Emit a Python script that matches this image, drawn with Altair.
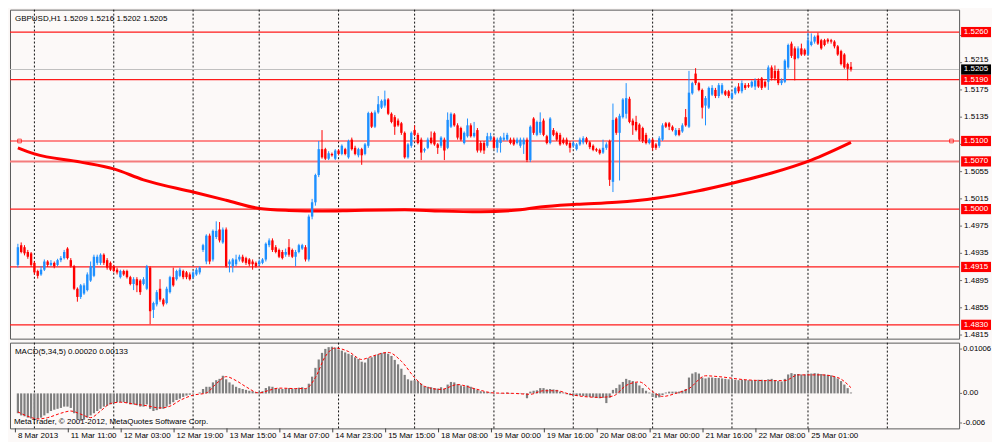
import altair as alt
import pandas as pd

# ---------------- texts ----------------
symbol_header = "GBPUSD,H1  1.5209 1.5216 1.5202 1.5205"
macd_header = "MACD(5,34,5) 0.00020 0.00133"
copyright_text = "MetaTrader, \u00a9 2001-2012, MetaQuotes Software Corp."

# ---------------- hourly candles (bar index 0 = 8 Mar 2013 19:00) ----------------
opens = [
    1.4918, 1.4947, 1.4944, 1.4937, 1.4935, 1.4921, 1.4909, 1.4904, 1.4911, 1.4923,
    1.4918, 1.4921, 1.4918, 1.4925, 1.4928, 1.4942, 1.4925, 1.4916, 1.4883, 1.4871,
    1.4876, 1.4881, 1.4895, 1.4902, 1.4921, 1.4921, 1.4933, 1.4925, 1.4921, 1.4916,
    1.4911, 1.4900, 1.4909, 1.4909, 1.4900, 1.4890, 1.4897, 1.4895, 1.4890, 1.4883,
    1.4914, 1.4852, 1.4860, 1.4883, 1.4867, 1.4862, 1.4878, 1.4900, 1.4897, 1.4902,
    1.4909, 1.4907, 1.4904, 1.4900, 1.4904, 1.4907, 1.4940, 1.4923, 1.4961, 1.4926,
    1.4959, 1.4970, 1.4951, 1.4970, 1.4919, 1.4916, 1.4919, 1.4926, 1.4930, 1.4928,
    1.4926, 1.4923, 1.4921, 1.4919, 1.4921, 1.4926, 1.4947, 1.4954, 1.4944, 1.4940,
    1.4937, 1.4933, 1.4944, 1.4940, 1.4930, 1.4937, 1.4942, 1.4944, 1.4926, 1.4989,
    1.5010, 1.5050, 1.5088, 1.5088, 1.5074, 1.5081, 1.5074, 1.5086, 1.5081, 1.5088,
    1.5076, 1.5102, 1.5090, 1.5079, 1.5088, 1.5081, 1.5093, 1.5141, 1.5121, 1.5142,
    1.5149, 1.5152, 1.5161, 1.5140, 1.5135, 1.5130, 1.5126, 1.5112, 1.5076, 1.5093,
    1.5116, 1.5109, 1.5102, 1.5086, 1.5090, 1.5105, 1.5112, 1.5095, 1.5093, 1.5102,
    1.5090, 1.5121, 1.5139, 1.5123, 1.5119, 1.5097, 1.5107, 1.5123, 1.5107, 1.5116,
    1.5097, 1.5097, 1.5093, 1.5102, 1.5105, 1.5090, 1.5097, 1.5102, 1.5102, 1.5102,
    1.5102, 1.5097, 1.5093, 1.5095, 1.5102, 1.5072, 1.5133, 1.5109, 1.5112, 1.5130,
    1.5107, 1.5097, 1.5116, 1.5112, 1.5109, 1.5102, 1.5102, 1.5097, 1.5093, 1.5088,
    1.5095, 1.5098, 1.5104, 1.5098, 1.5093, 1.5088, 1.5087, 1.5083, 1.5090, 1.5100,
    1.5040, 1.5133, 1.5112, 1.5135, 1.5140, 1.5162, 1.5130, 1.5128, 1.5124, 1.5119,
    1.5109, 1.5097, 1.5102, 1.5095, 1.5093, 1.5102, 1.5126, 1.5126, 1.5121, 1.5109,
    1.5116, 1.5114, 1.5135, 1.5121, 1.5170, 1.5199, 1.5185, 1.5175, 1.5152, 1.5149,
    1.5168, 1.5175, 1.5166, 1.5170, 1.5173, 1.5173, 1.5163, 1.5170, 1.5180, 1.5173,
    1.5182, 1.5182, 1.5180, 1.5180, 1.5189, 1.5192, 1.5187, 1.5187, 1.5208, 1.5203,
    1.5203, 1.5185, 1.5187, 1.5208, 1.5243, 1.5236, 1.5222, 1.5236, 1.5234, 1.5227,
    1.5241, 1.5246, 1.5255, 1.5248, 1.5248, 1.5249, 1.5248, 1.5246, 1.5239, 1.5232,
    1.5227, 1.5213, 1.5209,
]
highs = [
    1.4949, 1.4951, 1.4947, 1.4940, 1.4937, 1.4923, 1.4911, 1.4916, 1.4926, 1.4925,
    1.4925, 1.4923, 1.4927, 1.4931, 1.4940, 1.4944, 1.4928, 1.4918, 1.4885, 1.4890,
    1.4891, 1.4907, 1.4923, 1.4933, 1.4933, 1.4935, 1.4935, 1.4928, 1.4923, 1.4918,
    1.4914, 1.4911, 1.4911, 1.4911, 1.4902, 1.4900, 1.4900, 1.4897, 1.4900, 1.4918,
    1.4916, 1.4864, 1.4881, 1.4897, 1.4869, 1.4886, 1.4902, 1.4914, 1.4911, 1.4914,
    1.4911, 1.4909, 1.4907, 1.4909, 1.4914, 1.4916, 1.4949, 1.4963, 1.4964, 1.4970,
    1.4982, 1.4981, 1.4973, 1.4973, 1.4926, 1.4928, 1.4933, 1.4933, 1.4933, 1.4930,
    1.4928, 1.4926, 1.4923, 1.4926, 1.4928, 1.4951, 1.4957, 1.4957, 1.4947, 1.4942,
    1.4940, 1.4942, 1.4956, 1.4942, 1.4940, 1.4949, 1.4949, 1.4947, 1.4992, 1.5015,
    1.5052, 1.5100, 1.5116, 1.5090, 1.5085, 1.5083, 1.5088, 1.5088, 1.5095, 1.5090,
    1.5102, 1.5105, 1.5093, 1.5090, 1.5090, 1.5097, 1.5143, 1.5143, 1.5145, 1.5166,
    1.5161, 1.5174, 1.5163, 1.5142, 1.5138, 1.5133, 1.5128, 1.5114, 1.5097, 1.5114,
    1.5123, 1.5112, 1.5105, 1.5090, 1.5105, 1.5114, 1.5114, 1.5097, 1.5107, 1.5105,
    1.5142, 1.5142, 1.5141, 1.5126, 1.5121, 1.5114, 1.5133, 1.5126, 1.5128, 1.5119,
    1.5100, 1.5100, 1.5112, 1.5112, 1.5107, 1.5105, 1.5107, 1.5112, 1.5112, 1.5105,
    1.5105, 1.5105, 1.5105, 1.5105, 1.5105, 1.5123, 1.5135, 1.5130, 1.5142, 1.5133,
    1.5109, 1.5135, 1.5119, 1.5114, 1.5112, 1.5105, 1.5105, 1.5100, 1.5100, 1.5097,
    1.5105, 1.5107, 1.5106, 1.5100, 1.5095, 1.5090, 1.5089, 1.5102, 1.5098, 1.5102,
    1.5155, 1.5135, 1.5140, 1.5163, 1.5185, 1.5165, 1.5133, 1.5137, 1.5126, 1.5121,
    1.5112, 1.5104, 1.5104, 1.5097, 1.5107, 1.5126, 1.5128, 1.5128, 1.5123, 1.5119,
    1.5119, 1.5126, 1.5147, 1.5203, 1.5187, 1.5207, 1.5187, 1.5177, 1.5166, 1.5180,
    1.5182, 1.5178, 1.5185, 1.5185, 1.5175, 1.5175, 1.5173, 1.5180, 1.5185, 1.5189,
    1.5185, 1.5185, 1.5189, 1.5192, 1.5192, 1.5194, 1.5189, 1.5211, 1.5211, 1.5211,
    1.5206, 1.5192, 1.5220, 1.5243, 1.5246, 1.5239, 1.5239, 1.5243, 1.5236, 1.5259,
    1.5258, 1.5255, 1.5259, 1.5250, 1.5250, 1.5251, 1.5250, 1.5248, 1.5241, 1.5234,
    1.5229, 1.5215, 1.5216,
]
lows = [
    1.4914, 1.4935, 1.4932, 1.4927, 1.4915, 1.4904, 1.4898, 1.4902, 1.4909, 1.4915,
    1.4916, 1.4913, 1.4916, 1.4922, 1.4926, 1.4926, 1.4914, 1.4881, 1.4864, 1.4868,
    1.4874, 1.4879, 1.4893, 1.4900, 1.4918, 1.4918, 1.4918, 1.4911, 1.4909, 1.4907,
    1.4904, 1.4898, 1.4902, 1.4898, 1.4888, 1.4881, 1.4878, 1.4874, 1.4888, 1.4881,
    1.4831, 1.4840, 1.4857, 1.4864, 1.4857, 1.4860, 1.4876, 1.4886, 1.4895, 1.4900,
    1.4897, 1.4897, 1.4895, 1.4897, 1.4902, 1.4904, 1.4937, 1.4919, 1.4919, 1.4923,
    1.4956, 1.4951, 1.4949, 1.4914, 1.4907, 1.4907, 1.4916, 1.4923, 1.4921, 1.4918,
    1.4916, 1.4911, 1.4914, 1.4916, 1.4919, 1.4923, 1.4944, 1.4937, 1.4935, 1.4928,
    1.4926, 1.4930, 1.4930, 1.4928, 1.4916, 1.4935, 1.4940, 1.4923, 1.4923, 1.4985,
    1.5005, 1.5047, 1.5074, 1.5072, 1.5072, 1.5077, 1.5072, 1.5079, 1.5079, 1.5079,
    1.5074, 1.5086, 1.5079, 1.5076, 1.5065, 1.5079, 1.5090, 1.5119, 1.5119, 1.5140,
    1.5147, 1.5149, 1.5138, 1.5126, 1.5109, 1.5121, 1.5109, 1.5074, 1.5074, 1.5090,
    1.5107, 1.5095, 1.5072, 1.5083, 1.5088, 1.5095, 1.5093, 1.5081, 1.5090, 1.5072,
    1.5088, 1.5119, 1.5121, 1.5102, 1.5100, 1.5095, 1.5105, 1.5105, 1.5105, 1.5083,
    1.5083, 1.5081, 1.5090, 1.5100, 1.5088, 1.5083, 1.5083, 1.5100, 1.5100, 1.5095,
    1.5093, 1.5095, 1.5090, 1.5081, 1.5069, 1.5069, 1.5109, 1.5107, 1.5109, 1.5107,
    1.5095, 1.5095, 1.5107, 1.5100, 1.5093, 1.5095, 1.5093, 1.5083, 1.5090, 1.5086,
    1.5093, 1.5095, 1.5095, 1.5088, 1.5085, 1.5084, 1.5080, 1.5081, 1.5087, 1.5034,
    1.5025, 1.5109, 1.5042, 1.5133, 1.5133, 1.5126, 1.5109, 1.5114, 1.5100, 1.5097,
    1.5095, 1.5095, 1.5086, 1.5087, 1.5090, 1.5100, 1.5119, 1.5116, 1.5114, 1.5107,
    1.5107, 1.5112, 1.5121, 1.5119, 1.5168, 1.5182, 1.5173, 1.5133, 1.5123, 1.5147,
    1.5166, 1.5163, 1.5163, 1.5168, 1.5166, 1.5163, 1.5161, 1.5168, 1.5170, 1.5170,
    1.5175, 1.5178, 1.5178, 1.5175, 1.5178, 1.5175, 1.5178, 1.5175, 1.5189, 1.5189,
    1.5182, 1.5182, 1.5185, 1.5206, 1.5222, 1.5189, 1.5220, 1.5225, 1.5225, 1.5225,
    1.5239, 1.5243, 1.5241, 1.5234, 1.5239, 1.5243, 1.5243, 1.5236, 1.5225, 1.5211,
    1.5206, 1.5189, 1.5202,
]
closes = [
    1.4944, 1.4937, 1.4935, 1.4930, 1.4918, 1.4907, 1.4902, 1.4911, 1.4923, 1.4918,
    1.4921, 1.4916, 1.4925, 1.4928, 1.4937, 1.4928, 1.4916, 1.4883, 1.4871, 1.4888,
    1.4888, 1.4904, 1.4916, 1.4930, 1.4930, 1.4933, 1.4921, 1.4914, 1.4911, 1.4909,
    1.4907, 1.4909, 1.4904, 1.4900, 1.4890, 1.4897, 1.4888, 1.4878, 1.4897, 1.4916,
    1.4850, 1.4862, 1.4878, 1.4867, 1.4860, 1.4883, 1.4900, 1.4888, 1.4909, 1.4911,
    1.4900, 1.4900, 1.4897, 1.4907, 1.4911, 1.4914, 1.4947, 1.4961, 1.4923, 1.4968,
    1.4968, 1.4954, 1.4970, 1.4916, 1.4923, 1.4926, 1.4926, 1.4930, 1.4923, 1.4921,
    1.4919, 1.4919, 1.4916, 1.4923, 1.4926, 1.4949, 1.4954, 1.4940, 1.4937, 1.4930,
    1.4928, 1.4937, 1.4933, 1.4930, 1.4937, 1.4947, 1.4947, 1.4926, 1.4989, 1.5010,
    1.5050, 1.5088, 1.5076, 1.5074, 1.5082, 1.5079, 1.5086, 1.5081, 1.5093, 1.5081,
    1.5100, 1.5088, 1.5081, 1.5088, 1.5079, 1.5095, 1.5141, 1.5121, 1.5142, 1.5154,
    1.5159, 1.5161, 1.5140, 1.5128, 1.5121, 1.5123, 1.5112, 1.5076, 1.5095, 1.5112,
    1.5109, 1.5097, 1.5083, 1.5088, 1.5102, 1.5097, 1.5095, 1.5090, 1.5105, 1.5086,
    1.5131, 1.5140, 1.5123, 1.5105, 1.5102, 1.5112, 1.5123, 1.5107, 1.5112, 1.5086,
    1.5086, 1.5086, 1.5107, 1.5107, 1.5090, 1.5102, 1.5105, 1.5105, 1.5109, 1.5097,
    1.5095, 1.5102, 1.5102, 1.5102, 1.5072, 1.5121, 1.5112, 1.5128, 1.5128, 1.5109,
    1.5097, 1.5133, 1.5109, 1.5102, 1.5095, 1.5097, 1.5095, 1.5090, 1.5097, 1.5095,
    1.5102, 1.5104, 1.5098, 1.5091, 1.5087, 1.5086, 1.5082, 1.5090, 1.5095, 1.5043,
    1.5131, 1.5112, 1.5137, 1.5161, 1.5163, 1.5128, 1.5123, 1.5116, 1.5102, 1.5100,
    1.5097, 1.5102, 1.5090, 1.5090, 1.5104, 1.5123, 1.5121, 1.5121, 1.5116, 1.5116,
    1.5109, 1.5123, 1.5123, 1.5171, 1.5185, 1.5185, 1.5175, 1.5149, 1.5163, 1.5178,
    1.5178, 1.5166, 1.5182, 1.5182, 1.5168, 1.5166, 1.5170, 1.5178, 1.5173, 1.5185,
    1.5178, 1.5180, 1.5187, 1.5189, 1.5180, 1.5178, 1.5180, 1.5208, 1.5192, 1.5192,
    1.5185, 1.5189, 1.5218, 1.5241, 1.5225, 1.5220, 1.5236, 1.5227, 1.5227, 1.5248,
    1.5246, 1.5253, 1.5243, 1.5236, 1.5241, 1.5246, 1.5246, 1.5239, 1.5227, 1.5213,
    1.5208, 1.5206, 1.5205,
]

# ---------------- moving average (read at selected bars) ----------------
ma_bars = [0, 5, 19, 29, 38, 53, 63, 73, 82, 92, 102, 117, 128, 140, 152, 158,
           169, 181, 193, 205, 216, 228, 240, 252]
ma_values = [1.5090, 1.5081, 1.5069, 1.5059, 1.5043, 1.5025, 1.5013, 1.5001, 1.4998,
             1.4997, 1.4998, 1.4999, 1.4997, 1.4996, 1.4999, 1.5003, 1.5007, 1.5010,
             1.5016, 1.5026, 1.5038, 1.5053, 1.5072, 1.5098]

# ---------------- horizontal levels ----------------
level_prices = [1.5260, 1.5190, 1.5100, 1.5000, 1.4915, 1.4830]
soft_level_prices = [1.5070]
bid_prices = [1.5205]
# visible scale labels (1.5255 and 1.5095 lie hidden under the level boxes)
price_ticks = [1.5175, 1.5135, 1.5055, 1.5015, 1.4975,
               1.4935, 1.4895, 1.4855, 1.4815]
near_bid_ticks = [1.5215]
hidden_ticks = [1.5255, 1.5095]
anchor_bars = [0.5, 282.4]

# ---------------- MACD ----------------
macd_hist = [
    -0.0045, -0.0050, -0.0052, -0.0055, -0.0057, -0.0058, -0.0058, -0.0055, -0.0050, -0.0045,
    -0.0040, -0.0037, -0.0035, -0.0033, -0.0030, -0.0030, -0.0033, -0.0045, -0.0058, -0.0062,
    -0.0060, -0.0055, -0.0050, -0.0045, -0.0040, -0.0035, -0.0030, -0.0028, -0.0025, -0.0022,
    -0.0020, -0.0020, -0.0020, -0.0022, -0.0025, -0.0025, -0.0027, -0.0030, -0.0030, -0.0025,
    -0.0035, -0.0040, -0.0038, -0.0035, -0.0035, -0.0030, -0.0025, -0.0020, -0.0015, -0.0012,
    -0.0008, -0.0005, -0.0003, -0.0001, 0.0000, 0.0002, 0.0010, 0.0015, 0.0015, 0.0025,
    0.0030, 0.0033, 0.0040, 0.0032, 0.0025, 0.0020, 0.0015, 0.0012, 0.0010, 0.0008,
    0.0006, 0.0005, 0.0003, 0.0003, 0.0005, 0.0012, 0.0016, 0.0015, 0.0012, 0.0011,
    0.0010, 0.0011, 0.0012, 0.0011, 0.0011, 0.0013, 0.0014, 0.0011, 0.0022, 0.0038,
    0.0058, 0.0077, 0.0092, 0.0101, 0.0105, 0.0106, 0.0104, 0.0100, 0.0097, 0.0093,
    0.0090, 0.0087, 0.0082, 0.0078, 0.0072, 0.0070, 0.0080, 0.0082, 0.0086, 0.0089,
    0.0092, 0.0093, 0.0090, 0.0085, 0.0076, 0.0066, 0.0056, 0.0042, 0.0032, 0.0029,
    0.0030, 0.0028, 0.0022, 0.0016, 0.0015, 0.0014, 0.0012, 0.0011, 0.0014, 0.0010,
    0.0020, 0.0026, 0.0025, 0.0021, 0.0018, 0.0016, 0.0018, 0.0015, 0.0012, 0.0008,
    0.0005, 0.0004, 0.0003, 0.0002, 0.0001, 0.0000, 0.0001, 0.0001, 0.0002, 0.0001,
    0.0000, 0.0001, 0.0001, -0.0001, -0.0011, 0.0004, 0.0006, 0.0007, 0.0012, 0.0012,
    0.0009, 0.0010, 0.0009, 0.0008, 0.0004, 0.0002, -0.0002, -0.0004, -0.0006, -0.0006,
    -0.0005, -0.0006, -0.0007, -0.0008, -0.0009, -0.0010, -0.0011, -0.0010, -0.0022, -0.0010,
    0.0008, 0.0012, 0.0020, 0.0026, 0.0033, 0.0030, 0.0028, 0.0024, 0.0018, 0.0012,
    0.0006, 0.0002, -0.0008, -0.0010, -0.0009, -0.0004, 0.0002, 0.0004, 0.0004, 0.0004,
    0.0004, 0.0006, 0.0010, 0.0036, 0.0045, 0.0048, 0.0045, 0.0036, 0.0034, 0.0036,
    0.0036, 0.0035, 0.0035, 0.0034, 0.0033, 0.0032, 0.0031, 0.0031, 0.0030, 0.0031,
    0.0031, 0.0030, 0.0030, 0.0030, 0.0031, 0.0031, 0.0029, 0.0032, 0.0033, 0.0030,
    0.0028, 0.0027, 0.0033, 0.0043, 0.0046, 0.0044, 0.0044, 0.0043, 0.0043, 0.0045,
    0.0045, 0.0046, 0.0045, 0.0044, 0.0043, 0.0042, 0.0041, 0.0038, 0.0034, 0.0028,
    0.0020, 0.0012, 0.0002,
]
signal_bars = [0, 3, 6, 9, 13, 16, 19, 22, 25, 28, 31, 35, 39, 43, 46, 49, 53, 57, 60,
               63, 66, 69, 73, 76, 79, 84, 87, 90, 93, 96, 100, 104, 107, 112, 116, 120,
               123, 128, 133, 138, 144, 150, 155, 159, 163, 167, 171, 176, 180, 184, 188,
               192, 195, 199, 203, 208, 212, 220, 227, 232, 236, 243, 248, 252]
signal_values = [-0.0042, -0.0052, -0.0058, -0.0055, -0.0045, -0.0040, -0.0047, -0.0055,
                 -0.0040, -0.0023, -0.0020, -0.0024, -0.0028, -0.0033, -0.0029, -0.0016,
                 -0.0004, 0.0001, 0.0022, 0.0038, 0.0029, 0.0015, 0.0001, 0.0007, 0.0012,
                 0.0011, 0.0011, 0.0036, 0.0084, 0.0103, 0.0095, 0.0077, 0.0084, 0.0093,
                 0.0073, 0.0036, 0.0016, 0.0009, 0.0020, 0.0011, 0.0001, 0.0000, -0.0002,
                 0.0006, 0.0006, -0.0002, -0.0007, -0.0009, -0.0006, 0.0018, 0.0026,
                 0.0004, -0.0007, 0.0000, 0.0011, 0.0040, 0.0038, 0.0031, 0.0029, 0.0029,
                 0.0042, 0.0042, 0.0036, 0.0013]
macd_label_values = [0.01006, 0.0, -0.00672]
macd_label_texts = ["0.01006", "0.00", "-0.00672"]

# ---------------- time axis ----------------
date_bars = [0, 16, 32, 48, 64, 80, 96, 112, 128, 144, 160, 176, 192, 208, 224, 240]
date_labels = ["8 Mar 2013", "11 Mar 11:00", "12 Mar 03:00", "12 Mar 19:00",
               "13 Mar 15:00", "14 Mar 07:00", "14 Mar 23:00", "15 Mar 15:00",
               "18 Mar 08:00", "19 Mar 00:00", "19 Mar 16:00", "20 Mar 08:00",
               "21 Mar 00:00", "21 Mar 16:00", "22 Mar 08:00", "25 Mar 01:00"]
day_grid_bars = [5, 29, 53, 73, 97, 120, 144, 168, 192, 216, 239, 263]

# ---------------- layout / style ----------------
W, H1, H2 = 952, 330, 86
BG = "#FCF9F8"
FONT = "Liberation Sans"
BULL, BEAR = "#1E90FF", "#FF0000"

n = len(opens)
candles = pd.DataFrame({"bar": list(range(n)), "open": opens, "high": highs,
                        "low": lows, "close": closes})
candles["dir"] = ["up" if c >= o else "down" for o, c in zip(opens, closes)]

xs = alt.Scale(domain=[-0.88, 283.2], nice=False, zero=False)
ys = alt.Scale(domain=[1.48097, 1.52929], nice=False, zero=False)
ms = alt.Scale(domain=[-0.00794, 0.01152], nice=False, zero=False)
col = alt.Color("dir:N", scale=alt.Scale(domain=["up", "down"], range=[BULL, BEAR]),
                legend=None)


def X(f):
    return alt.X(f, scale=xs, axis=None)


def YP(f):
    return alt.Y(f, scale=ys, axis=None)


def YM(f):
    return alt.Y(f, scale=ms, axis=None)


grid_df = pd.DataFrame({"bar": day_grid_bars})
grid = alt.Chart(grid_df).mark_rule(color="#111111", strokeDash=[2, 2],
                                    strokeWidth=1).encode(x=X("bar:Q"))

levels = alt.Chart(pd.DataFrame({"price": level_prices})).mark_rule(
    color="#FF1A1A", strokeWidth=1.2).encode(y=YP("price:Q"))
soft = alt.Chart(pd.DataFrame({"price": soft_level_prices})).mark_rule(
    color="#F47C7C", strokeWidth=2).encode(y=YP("price:Q"))
bid = alt.Chart(pd.DataFrame({"price": bid_prices})).mark_rule(
    color="#C0C0C0", strokeWidth=1).encode(y=YP("price:Q"))

ma = alt.Chart(pd.DataFrame({"bar": ma_bars, "ma": ma_values})).mark_line(
    color="#FF0000", strokeWidth=3, interpolate="monotone").encode(
    x=X("bar:Q"), y=YP("ma:Q"))

wicks = alt.Chart(candles).mark_rule(strokeWidth=1).encode(
    x=X("bar:Q"), y=YP("low:Q"), y2="high:Q", color=col)
bodies = alt.Chart(candles).mark_bar(size=2.4).encode(
    x=X("bar:Q"), y=YP("open:Q"), y2="close:Q", color=col)

anchors = alt.Chart(pd.DataFrame({"bar": anchor_bars,
                                  "price": [level_prices[2]] * len(anchor_bars)})).mark_point(
    shape="square", filled=False, size=14, color="#FF0000", strokeWidth=1).encode(
    x=X("bar:Q"), y=YP("price:Q"))

# right price scale (ticks + labels drawn as marks)
tick_df = pd.DataFrame({"price": price_ticks})
tick_df["label"] = [f"{p:.4f}" for p in price_ticks]
near_df = pd.DataFrame({"price": near_bid_ticks})
near_df["label"] = [f"{p:.4f}" for p in near_bid_ticks]
ptick = alt.Chart(pd.DataFrame({"price": price_ticks + near_bid_ticks + hidden_ticks})).mark_rule(
    color="#707070").encode(x=alt.value(W), x2=alt.value(W + 3), y=YP("price:Q"))
plabel = alt.Chart(tick_df).mark_text(align="left", baseline="middle", font=FONT,
                                      fontSize=8, color="black").encode(
    x=alt.value(W + 5), y=YP("price:Q"), text="label:N")
plabel_near = alt.Chart(near_df).mark_text(align="left", baseline="middle", font=FONT,
                                           fontSize=8, color="black", dy=-2.5).encode(
    x=alt.value(W + 5), y=YP("price:Q"), text="label:N")

box_levels = pd.DataFrame({"price": level_prices + soft_level_prices})
box_levels["label"] = [f"{p:.4f}" for p in box_levels["price"]]
box_bid = pd.DataFrame({"price": bid_prices})
box_bid["label"] = [f"{p:.4f}" for p in box_bid["price"]]


def box_layer(df, color):
    rect = alt.Chart(df).transform_calculate(
        lo="datum.price - 0.00075", hi="datum.price + 0.00075").mark_rect(
        color=color).encode(x=alt.value(W + 2), x2=alt.value(W + 32),
                            y=YP("lo:Q"), y2="hi:Q")
    txt = alt.Chart(df).mark_text(align="center", baseline="middle", font=FONT,
                                  fontSize=8, color="white").encode(
        x=alt.value(W + 17), y=YP("price:Q"), text="label:N")
    return rect + txt


header = alt.Chart(pd.DataFrame({"t": [symbol_header]})).mark_text(
    align="left", baseline="middle", font=FONT, fontSize=8, color="black").encode(
    x=alt.value(5), y=alt.value(9), text="t:N")

main = alt.layer(grid, levels, soft, bid, ma, wicks, bodies, anchors, ptick, plabel,
                 plabel_near, box_layer(box_levels, "#FF0000"),
                 box_layer(box_bid, "#000000"), header).properties(width=W, height=H1)

# ---------------- MACD panel ----------------
hist = alt.Chart(pd.DataFrame({"bar": list(range(len(macd_hist))), "macd": macd_hist})).mark_bar(
    size=2.2, color="#7F7F7F").encode(x=X("bar:Q"), y=YM("macd:Q"), y2=alt.datum(0))
signal = alt.Chart(pd.DataFrame({"bar": signal_bars, "sig": signal_values})).mark_line(
    color="#FF0000", strokeDash=[3, 2], strokeWidth=1, interpolate="monotone").encode(
    x=X("bar:Q"), y=YM("sig:Q"))
macd_title = alt.Chart(pd.DataFrame({"t": [macd_header]})).mark_text(
    align="left", baseline="middle", font=FONT, fontSize=8, color="black").encode(
    x=alt.value(5), y=alt.value(9), text="t:N")
copyright = alt.Chart(pd.DataFrame({"t": [copyright_text]})).mark_text(
    align="left", baseline="middle", font=FONT, fontSize=8, color="black").encode(
    x=alt.value(4), y=alt.value(H2 - 6), text="t:N")
mlab_df = pd.DataFrame({"v": macd_label_values, "label": macd_label_texts})
mlab = alt.Chart(mlab_df).mark_text(align="left", baseline="middle", font=FONT,
                                    fontSize=7.8, color="black", limit=28.5,
                                    ellipsis=" ").encode(
    x=alt.value(W + 4), y=YM("v:Q"), text="label:N")
mtick = alt.Chart(mlab_df).mark_rule(color="#707070").encode(
    x=alt.value(W), x2=alt.value(W + 3), y=YM("v:Q"))

date_df = pd.DataFrame({"bar": date_bars, "label": date_labels})
dtext = alt.Chart(date_df).mark_text(align="left", baseline="middle", font=FONT,
                                     fontSize=8, color="black").encode(
    x=X("bar:Q"), y=alt.value(H2 + 8), text="label:N")
dtick = alt.Chart(date_df).mark_rule(color="#404040", xOffset=-2.5).encode(
    x=X("bar:Q"), y=alt.value(H2), y2=alt.value(H2 + 4))

macd = alt.layer(grid, hist, signal, macd_title, copyright, mtick, mlab,
                 dtick, dtext).properties(width=W, height=H2)

chart = alt.vconcat(main, macd, spacing=2).resolve_scale(
    x="independent", y="independent", color="independent").properties(
    padding=0, background=BG).configure_view(stroke="#5A5A5A", strokeWidth=1, fill=BG)

chart.save("out.html", embed_options={"renderer": "svg", "actions": False})
